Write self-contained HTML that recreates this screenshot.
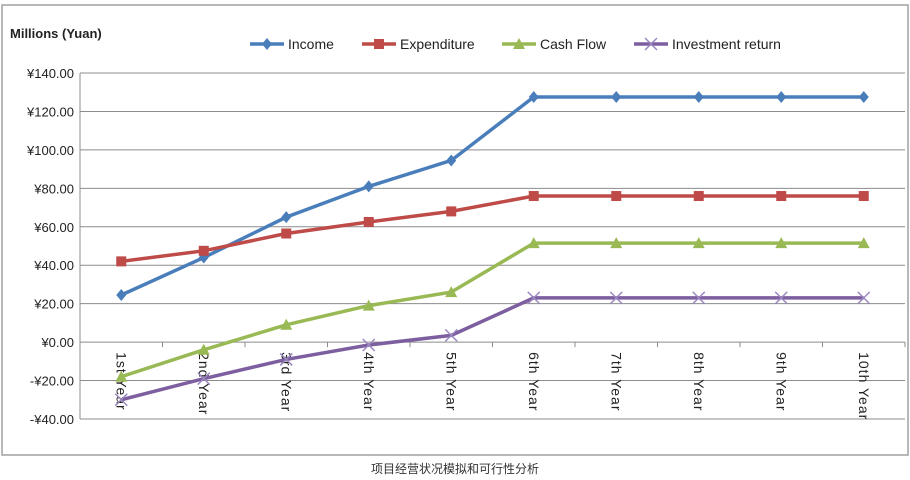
<!DOCTYPE html>
<html><head><meta charset="utf-8"><style>
body{margin:0;width:910px;height:480px;background:#fff;overflow:hidden;font-family:"Liberation Sans","Noto Sans CJK SC",sans-serif}
</style></head><body>
<svg id="c" width="910" height="480" style="position:absolute;left:0;top:0">
<rect x="2" y="5" width="906" height="450" fill="#fff" stroke="#a0a0a0" stroke-width="1.5"/>
<text x="10" y="38" font-size="13" font-weight="bold" fill="#222">Millions (Yuan)</text>
<text x="455" y="473" font-size="12" fill="#333" text-anchor="middle" font-family="Noto Sans CJK SC, sans-serif">项目经营状况模拟和可行性分析</text>
<g id="grid"></g><g id="series"></g><g id="legend"></g>
</svg>
<script>
const categories=["1st Year","2nd Year","3rd Year","4th Year","5th Year","6th Year","7th Year","8th Year","9th Year","10th Year"];
const income=[24.5,44,65,81,94.5,127.5,127.5,127.5,127.5,127.5];
const expenditure=[42,47.5,56.5,62.5,68,76,76,76,76,76];
const cashFlow=[-18,-4,9,19,26,51.5,51.5,51.5,51.5,51.5];
const investmentReturn=[-30,-19,-9,-1.5,3.5,23,23,23,23,23];
const yTicks=[140,120,100,80,60,40,20,0,-20,-40];
const yTickLabels=["¥140.00","¥120.00","¥100.00","¥80.00","¥60.00","¥40.00","¥20.00","¥0.00","-¥20.00","-¥40.00"];
const NS="http://www.w3.org/2000/svg";
const L=80,R=905,yTop=73,yBot=419,yMax=140,yMin=-40;
const step=(R-L)/categories.length;
const x=i=>L+step*(i+0.5);
const y=v=>yTop+(yMax-v)/(yMax-yMin)*(yBot-yTop);
function mk(t,a,p){const e=document.createElementNS(NS,t);for(const k in a)e.setAttribute(k,a[k]);p.appendChild(e);return e;}
const g=document.getElementById('grid');
yTicks.forEach((v,i)=>{
 const ln=mk('line',{x1:L,x2:R,y1:y(v),y2:y(v),stroke:'#8c8c8c','stroke-width':1},g);
 
 
 const t=mk('text',{x:L-6,y:y(v)+5,'text-anchor':'end','font-size':13,fill:'#222'},g);
 t.textContent=yTickLabels[i];
 
 
});
const ax=mk('line',{x1:L,x2:L,y1:yTop,y2:yBot,stroke:'#8c8c8c'},g);


for(let i=0;i<=categories.length;i++){
 const tk=mk('line',{x1:L+step*i,x2:L+step*i,y1:y(0),y2:y(0)+5,stroke:'#8c8c8c'},g);
 
 
}
categories.forEach((c,i)=>{
 const t=mk('text',{x:0,y:0,'font-size':14,'letter-spacing':1,fill:'#222',transform:`translate(${x(i)-5},${y(0)+10}) rotate(90)`},g);
 t.textContent=c;
 
 
});
const S=document.getElementById('series');
const defs=[["income",income,"#4a7ebb","diamond"],["expenditure",expenditure,"#be4b48","square"],["cash-flow",cashFlow,"#98b954","triangle"],["investment-return",investmentReturn,"#7d5fa0","x"]];
function marker(type,cx,cy,col,p){
 let e;
 if(type=="diamond")e=mk('polygon',{points:`${cx},${cy-6} ${cx+5},${cy} ${cx},${cy+6} ${cx-5},${cy}`,fill:col},p);
 else if(type=="square")e=mk('rect',{x:cx-5,y:cy-5,width:10,height:10,fill:col},p);
 else if(type=="triangle")e=mk('polygon',{points:`${cx},${cy-6} ${cx+6},${cy+5} ${cx-6},${cy+5}`,fill:col},p);
 else e=mk('path',{d:`M${cx-6},${cy-6}L${cx+6},${cy+6}M${cx-6},${cy+6}L${cx+6},${cy-6}`,stroke:'#9b87c0','stroke-width':1.5,fill:'none'},p);
 return e;
}
defs.forEach(([n,d,col,m])=>{
 const gg=mk('g',{},S);
 
 
 const pl=mk('polyline',{points:d.map((v,i)=>x(i)+','+y(v)).join(' '),fill:'none',stroke:col,'stroke-width':3.5},gg);
 
 
 d.forEach((v,i)=>{const e=marker(m,x(i),y(v),col,gg);
  
  });
});
const LG=document.getElementById('legend');
const lx=[250,362,502,634],names=["Income","Expenditure","Cash Flow","Investment return"];
defs.forEach(([n,d,col,m],i)=>{
 const gg=mk('g',{},LG);
 
 
 mk('line',{x1:lx[i],x2:lx[i]+34,y1:44,y2:44,stroke:col,'stroke-width':3.5},gg);
 marker(m,lx[i]+17,44,col,gg);
 const t=mk('text',{x:lx[i]+38,y:49,'font-size':14,fill:'#222'},gg);
 t.textContent=names[i];
});
</script>
</body></html>
